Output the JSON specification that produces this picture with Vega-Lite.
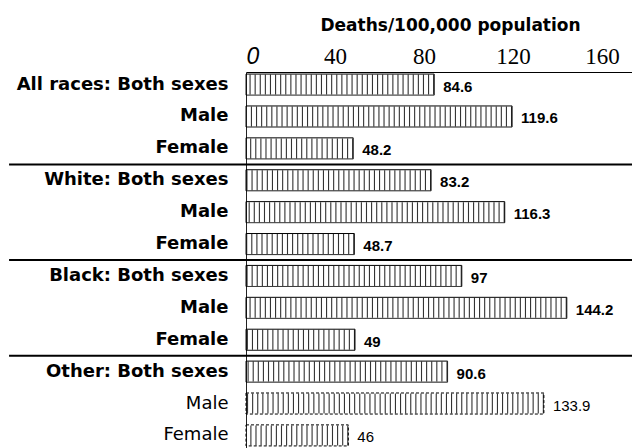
{
  "$schema": "https://vega.github.io/schema/vega-lite/v6.json",
  "width": 386,
  "height": 376,
  "autosize": "none",
  "padding": {"left": 246, "top": 72, "right": 0, "bottom": 0},
  "background": "white",
  "config": {"view": {"stroke": null}},
  "datasets": {
    "rates": [
      {"row": "All races: Both sexes", "value": 84.6},
      {"row": "All races: Male", "value": 119.6},
      {"row": "All races: Female", "value": 48.2},
      {"row": "White: Both sexes", "value": 83.2},
      {"row": "White: Male", "value": 116.3},
      {"row": "White: Female", "value": 48.7},
      {"row": "Black: Both sexes", "value": 97},
      {"row": "Black: Male", "value": 144.2},
      {"row": "Black: Female", "value": 49},
      {"row": "Other: Both sexes", "value": 90.6},
      {"row": "Other: Male", "value": 133.9},
      {"row": "Other: Female", "value": 46}
    ],
    "separators": [
      {"after": "All races: Female"},
      {"after": "White: Female"},
      {"after": "Black: Female"}
    ]
  },
  "layer": [
    {
      "data": {"name": "rates"},
      "mark": {"type": "rule", "strokeWidth": 20, "strokeDash": [1.1, 4], "color": "#333"},
      "encoding": {
        "y": {
          "field": "row", "type": "nominal",
          "scale": {
            "domain": ["All races: Both sexes", "All races: Male", "All races: Female", "White: Both sexes", "White: Male", "White: Female", "Black: Both sexes", "Black: Male", "Black: Female", "Other: Both sexes", "Other: Male", "Other: Female"],
            "paddingInner": 0.34, "paddingOuter": 0.065
          },
          "axis": {
            "title": null,
            "ticks": false,
            "domain": true,
            "domainColor": "#222",
            "domainWidth": 1,
            "labelPadding": 18,
            "labelLimit": 300,
            "labelFont": "DejaVu Sans",
            "labelFontSize": 18,
            "labelColor": "black",
            "labelFontWeight": {"condition": {"test": "datum.value == 'Other: Male' || datum.value == 'Other: Female'", "value": "normal"}, "value": "bold"},
            "labelExpr": "split(datum.value, ': ')[1] == 'Both sexes' ? datum.value : split(datum.value, ': ')[1]"
          }
        },
        "x": {
          "field": "value", "type": "quantitative",
          "scale": {"domain": [0, 173.5], "nice": false, "zero": true},
          "axis": {
            "orient": "top",
            "values": [0, 40, 80, 120, 160],
            "ticks": false,
            "tickSize": 0,
            "grid": false,
            "domain": true,
            "domainColor": "black",
            "domainWidth": 1.2,
            "labelPadding": 9,
            "labelBaseline": "alphabetic",
            "labelColor": "black",
            "labelFontSize": 23,
            "labelFont": {"condition": {"test": "datum.value === 0", "value": "Liberation Sans"}, "value": "Liberation Serif"},
            "labelFontStyle": {"condition": {"test": "datum.value === 0", "value": "italic"}, "value": "normal"},
            "title": "Deaths/100,000   population",
            "titleFont": "DejaVu Sans",
            "titleFontSize": 17,
            "titleFontWeight": "bold",
            "titleColor": "black",
            "titleX": 204,
            "titleY": -42,
            "titleAlign": "center",
            "titleBaseline": "alphabetic",
            "titleAnchor": null
          }
        },
        "x2": {"datum": 0}
      }
    },
    {
      "data": {"name": "rates"},
      "mark": {"type": "bar", "fillOpacity": 0, "stroke": "black", "strokeWidth": 1},
      "encoding": {
        "y": {"field": "row", "type": "nominal"},
        "x": {"field": "value", "type": "quantitative"},
        "strokeDash": {"condition": {"test": "datum.row == 'Other: Male' || datum.row == 'Other: Female'", "value": [3, 2]}, "value": [1, 0]}
      }
    },
    {
      "data": {"name": "rates"},
      "transform": [{"filter": "datum.row != 'Other: Male' && datum.row != 'Other: Female'"}],
      "mark": {"type": "text", "align": "left", "baseline": "middle", "dx": 9, "dy": 2, "font": "Liberation Sans", "fontSize": 15, "fontWeight": "bold", "color": "black"},
      "encoding": {
        "y": {"field": "row", "type": "nominal"},
        "x": {"field": "value", "type": "quantitative"},
        "text": {"field": "value", "type": "nominal"}
      }
    },
    {
      "data": {"name": "rates"},
      "transform": [{"filter": "datum.row == 'Other: Male' || datum.row == 'Other: Female'"}],
      "mark": {"type": "text", "align": "left", "baseline": "middle", "dx": 9, "dy": 2, "font": "Liberation Sans", "fontSize": 15, "fontWeight": "normal", "color": "black"},
      "encoding": {
        "y": {"field": "row", "type": "nominal"},
        "x": {"field": "value", "type": "quantitative"},
        "text": {"field": "value", "type": "nominal"}
      }
    },
    {
      "data": {"name": "separators"},
      "mark": {"type": "rule", "strokeWidth": 2, "color": "black", "yOffset": 16},
      "encoding": {
        "y": {"field": "after", "type": "nominal"},
        "x": {"datum": -106.5, "type": "quantitative"},
        "x2": {"datum": 173.5}
      }
    }
  ]
}
